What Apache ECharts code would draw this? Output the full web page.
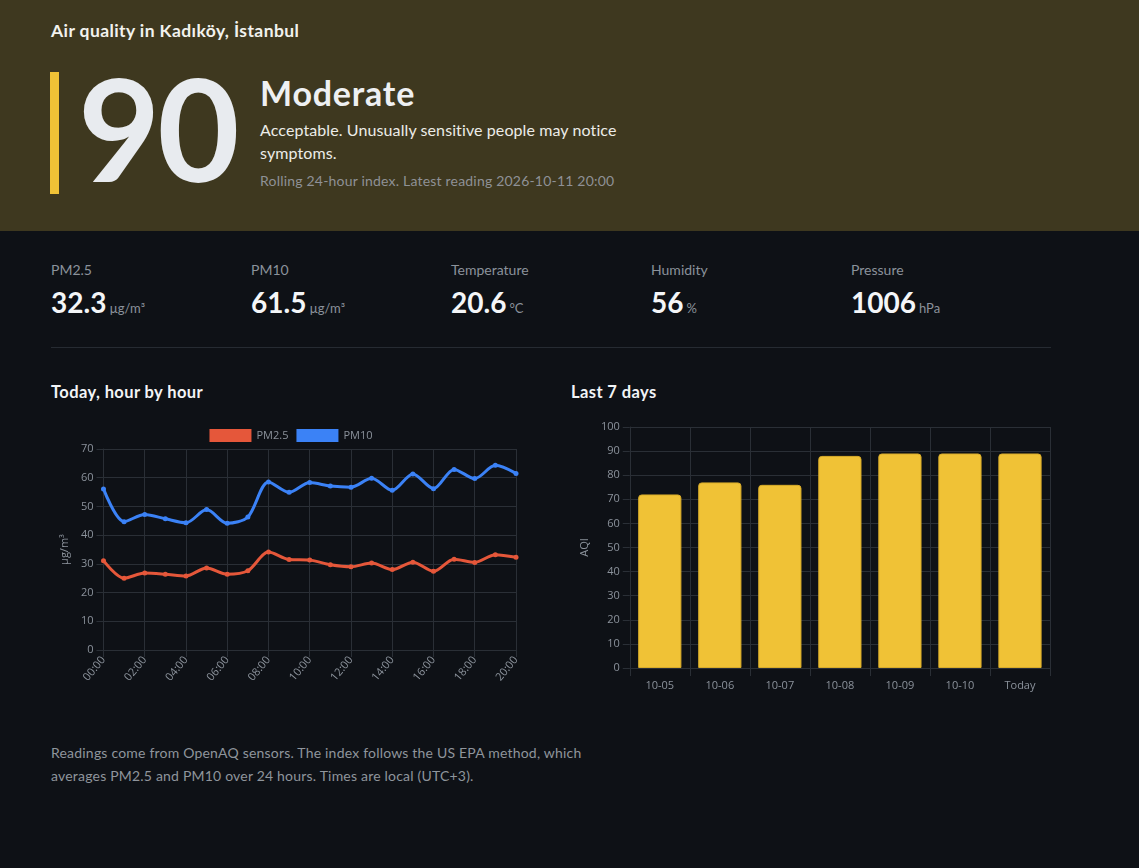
<!DOCTYPE html>
<html>
<head>
<meta charset="utf-8">
<script src="https://cdn.jsdelivr.net/npm/echarts@6/dist/echarts.min.js"></script>
<style>
  html, body { margin: 0; padding: 0; }
  body { width: 1139px; height: 868px; background: #0e1116; position: relative; overflow: hidden; font-family: Lato, "Open Sans", sans-serif; color: #e6e9ee; }
  .hdr { position: absolute; left: 0; top: 0; width: 1139px; height: 231px; background: #3e381f; }
  .abs { position: absolute; white-space: nowrap; }
  #title { left: 51px; top: 20px; font-size: 17.5px; font-weight: 700; color: #f2f2ee; letter-spacing: 0.4px; }
  #bar { left: 50px; top: 72px; width: 9px; height: 122px; background: #f0c236; }
  #big { left: 78px; top: 52px; font-size: 142px; font-weight: 700; line-height: 150px; color: #e8ebef; letter-spacing: -3px; }
  #cat { left: 260px; top: 72px; font-size: 34px; font-weight: 700; color: #eef0f2; letter-spacing: 0.8px; }
  #desc { left: 260px; top: 118px; width: 380px; white-space: normal; font-size: 16px; line-height: 23px; color: #ecece8; letter-spacing: 0.1px; }
  #roll { left: 260px; top: 172px; font-size: 14px; color: #8f9196; letter-spacing: 0.2px; }
  .lab { font-size: 14px; color: #8b929b; top: 261px; }
  .val { top: 285px; font-size: 28px; font-weight: 700; color: #f4f6f8; }
  .val span { font-size: 13px; font-weight: 400; color: #8b929b; margin-left: 3px; }
  #hr { left: 51px; top: 347px; width: 1000px; height: 1px; background: #262b32; }
  .sec { top: 382px; font-size: 16.5px; font-weight: 700; color: #f2f4f6; letter-spacing: 0.4px; }
  #foot { left: 51px; top: 741px; font-size: 14px; line-height: 23px; color: #8f959c; white-space: normal; width: 548px; letter-spacing: 0.2px; }
  #line { position: absolute; left: 51px; top: 415px; width: 480px; height: 290px; }
  #bars { position: absolute; left: 571px; top: 415px; width: 490px; height: 290px; }
</style>
</head>
<body>
<div class="hdr"></div>
<div class="abs" id="title">Air quality in Kadıköy, İstanbul</div>
<div class="abs" id="bar"></div>
<div class="abs" id="big">90</div>
<div class="abs" id="cat">Moderate</div>
<div class="abs" id="desc">Acceptable. Unusually sensitive people may notice symptoms.</div>
<div class="abs" id="roll">Rolling 24-hour index. Latest reading 2026-10-11 20:00</div>

<div class="abs lab" style="left:51px">PM2.5</div>
<div class="abs lab" style="left:251px">PM10</div>
<div class="abs lab" style="left:451px">Temperature</div>
<div class="abs lab" style="left:651px">Humidity</div>
<div class="abs lab" style="left:851px">Pressure</div>
<div class="abs val" style="left:51px">32.3<span>µg/m³</span></div>
<div class="abs val" style="left:251px">61.5<span>µg/m³</span></div>
<div class="abs val" style="left:451px">20.6<span>°C</span></div>
<div class="abs val" style="left:651px">56<span>%</span></div>
<div class="abs val" style="left:851px">1006<span>hPa</span></div>
<div class="abs" id="hr"></div>

<div class="abs sec" style="left:51px">Today, hour by hour</div>
<div class="abs sec" style="left:571px">Last 7 days</div>
<div id="line"></div>
<div id="bars"></div>
<div class="abs" id="foot">Readings come from OpenAQ sensors. The index follows the US EPA method, which averages PM2.5 and PM10 over 24 hours. Times are local (UTC+3).</div>

<script>
const hours = ["00:00","01:00","02:00","03:00","04:00","05:00","06:00","07:00","08:00","09:00","10:00","11:00","12:00","13:00","14:00","15:00","16:00","17:00","18:00","19:00","20:00"];
const pm25 = [31.1,25.0,26.8,26.4,25.8,28.6,26.4,27.6,34.1,31.5,31.3,29.7,29.0,30.3,28.0,30.6,27.4,31.6,30.5,33.2,32.3];
const pm10 = [56.1,44.7,47.2,45.7,44.3,48.9,44.1,46.3,58.5,54.9,58.3,57.1,56.7,59.8,55.6,61.3,56.2,62.9,59.7,64.3,61.5];
const days = ["10-05","10-06","10-07","10-08","10-09","10-10","Today"];
const aqi = [72,77,76,88,89,89,89];

const gridC = '#2a2f36';
const txtC = '#8b929b';
const font = '"Open Sans", "Noto Sans", sans-serif';

const lc = echarts.init(document.getElementById('line'), null, {renderer: 'canvas'});
lc.setOption({
  animation: false,
  textStyle: { fontFamily: font },
  legend: { top: 9, left: 'center', icon: 'rect', itemWidth: 42, itemHeight: 13, itemGap: 8,
    textStyle: { color: txtC, fontSize: 11, fontFamily: font },
    data: ['PM2.5', 'PM10'] },
  grid: { left: 49, right: 15, top: 34, bottom: 55, containLabel: false },
  xAxis: { type: 'category', data: hours, boundaryGap: false,
    axisLine: { lineStyle: { color: gridC } },
    axisTick: { show: true, interval: 1, length: 7, lineStyle: { color: gridC } },
    splitLine: { show: true, interval: 1, lineStyle: { color: gridC } },
    axisLabel: { interval: 1, rotate: 50, color: txtC, fontSize: 11, fontFamily: font, margin: 8 } },
  yAxis: { type: 'value', min: 0, max: 70, interval: 10,
    name: 'µg/m³', nameLocation: 'middle', nameGap: 32, nameRotate: 90,
    nameTextStyle: { color: txtC, fontSize: 11, fontFamily: font },
    axisLine: { show: true, lineStyle: { color: gridC } },
    axisTick: { show: true, length: 7, lineStyle: { color: gridC } },
    splitLine: { lineStyle: { color: gridC } },
    axisLabel: { color: txtC, fontSize: 11, fontFamily: font, margin: 10 } },
  series: [
    { name: 'PM2.5', type: 'line', data: pm25, smooth: 0.3, symbol: 'circle', symbolSize: 5,
      itemStyle: { color: '#e5573a' }, lineStyle: { width: 3, color: '#e5573a' } },
    { name: 'PM10', type: 'line', data: pm10, smooth: 0.3, symbol: 'circle', symbolSize: 5,
      itemStyle: { color: '#3b82f6' }, lineStyle: { width: 3, color: '#3b82f6' } }
  ]
});

const bc = echarts.init(document.getElementById('bars'), null, {renderer: 'canvas'});
bc.setOption({
  animation: false,
  textStyle: { fontFamily: font },
  grid: { left: 56, right: 11, top: 12, bottom: 37, containLabel: false },
  xAxis: { type: 'category', data: days, boundaryGap: true,
    axisLine: { lineStyle: { color: gridC } },
    axisTick: { show: true, length: 8, alignWithLabel: false, lineStyle: { color: gridC } },
    splitLine: { show: true, lineStyle: { color: gridC } },
    axisLabel: { color: txtC, fontSize: 11, fontFamily: font, margin: 12 } },
  yAxis: { type: 'value', min: 0, max: 100, interval: 10,
    name: 'AQI', nameLocation: 'middle', nameGap: 39, nameRotate: 90,
    nameTextStyle: { color: txtC, fontSize: 11, fontFamily: font },
    axisLine: { show: true, lineStyle: { color: gridC } },
    axisTick: { show: true, length: 7, lineStyle: { color: gridC } },
    splitLine: { lineStyle: { color: gridC } },
    axisLabel: { color: txtC, fontSize: 11, fontFamily: font, margin: 10 } },
  series: [
    { type: 'bar', data: aqi, barWidth: '72%',
      itemStyle: { color: '#f0c236', borderColor: '#d9ac2a', borderWidth: 1, borderRadius: [3,3,0,0] } }
  ]
});
</script>
</body>
</html>
